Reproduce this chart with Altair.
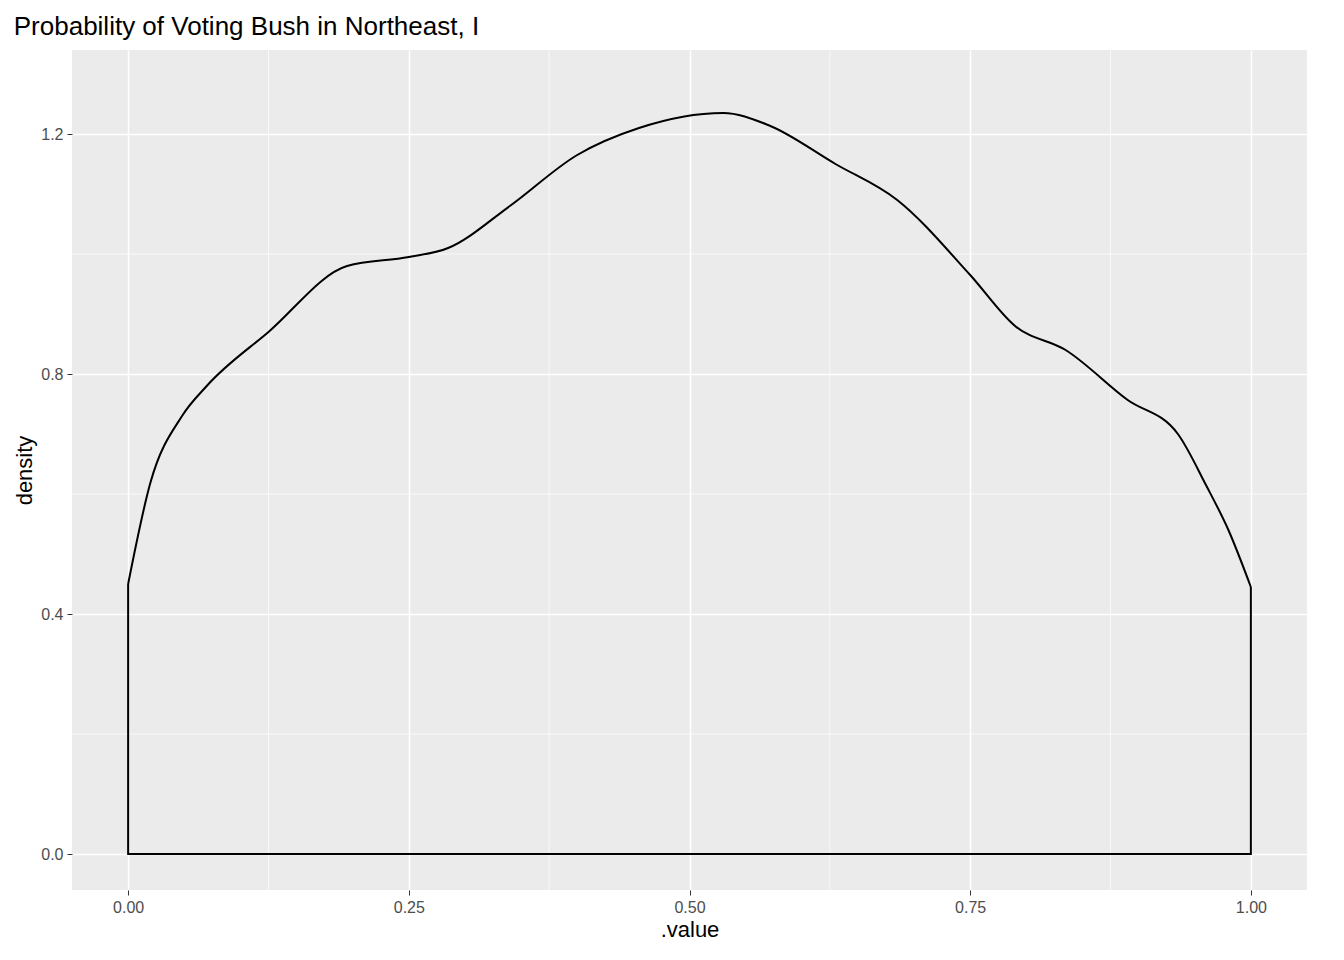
import altair as alt
import pandas as pd

# density curve
xs = [0.0, 0.02, 0.048, 0.07, 0.125, 0.195, 0.25, 0.285, 0.34, 0.40, 0.455, 0.53,
      0.57, 0.63, 0.685, 0.75, 0.79, 0.835, 0.89, 0.935, 0.96, 0.98, 1.0]
ys = [0.45, 0.62, 0.73, 0.78, 0.87, 0.98, 0.995, 1.01, 1.08, 1.165, 1.21, 1.235,
      1.215, 1.15, 1.09, 0.965, 0.88, 0.84, 0.757, 0.70, 0.615, 0.54, 0.445]

# closing edges of the density polygon
edge_x = [0.0, 0.0, 1.0, 1.0]
edge_y = [0.45, 0.0, 0.0, 0.445]

x_major = [0.0, 0.25, 0.5, 0.75, 1.0]
x_minor = [0.125, 0.375, 0.625, 0.875]
y_major = [0.0, 0.4, 0.8, 1.2]
y_minor = [0.2, 0.6, 1.0]

curve = pd.DataFrame({"x": xs, "y": ys})
edges = pd.DataFrame({"x": edge_x, "y": edge_y, "o": range(4)})

xs_scale = alt.Scale(domain=[-0.05, 1.05], nice=False, zero=False)
ys_scale = alt.Scale(domain=[-0.06, 1.34], nice=False, zero=False)

axis_style = dict(domain=False, gridColor="white", gridWidth=1.5, tickColor="#333333",
                  labelColor="#4d4d4d", labelFontSize=16, titleFontSize=22,
                  titleFontWeight="normal", titleColor="black", labelPadding=4)
major_x = alt.Axis(values=x_major, format=".2f", title=".value", **axis_style)
major_y = alt.Axis(values=y_major, format=".1f", title="density", **axis_style)

vgrid = alt.Chart(pd.DataFrame({"x": x_minor})).mark_rule(color="white", strokeWidth=0.7).encode(
    x=alt.X("x:Q", scale=xs_scale, axis=major_x),
)
hgrid = alt.Chart(pd.DataFrame({"y": y_minor})).mark_rule(color="white", strokeWidth=0.7).encode(
    y=alt.Y("y:Q", scale=ys_scale, axis=major_y),
)

line = alt.Chart(curve).mark_line(color="black", strokeWidth=2, interpolate="monotone").encode(
    x=alt.X("x:Q", scale=xs_scale, axis=major_x),
    y=alt.Y("y:Q", scale=ys_scale, axis=major_y),
)

edge = alt.Chart(edges).mark_line(color="black", strokeWidth=2).encode(
    x=alt.X("x:Q", scale=xs_scale, axis=major_x),
    y=alt.Y("y:Q", scale=ys_scale, axis=major_y),
    order="o:Q",
)

chart = alt.layer(vgrid, hgrid, line, edge).properties(
    width=1235, height=840,
    title=alt.Title("Probability of Voting Bush in Northeast, I", anchor="start",
                    fontSize=26, fontWeight="normal", color="black", offset=10),
).configure(font="Liberation Sans", view=alt.ViewConfig(fill="#ebebeb", stroke=None))

chart.save("out.html", embed_options={"renderer": "svg", "actions": False})
